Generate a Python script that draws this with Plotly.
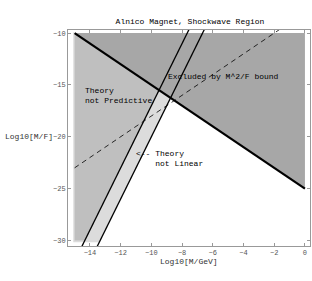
import plotly.graph_objects as go

# ---- data ----
# M^2/F bound (thick line)
bound_x = [-15, 0]
bound_y = [-10, -25]
# "theory not linear" band edges (slope 3 lines)
lin_lo_x = [-14.7, -7.3]
lin_lo_y = [-31.1, -8.9]
lin_hi_x = [-13.7, -6.3]
lin_hi_y = [-31.1, -8.9]
# dashed line
dash_x = [-15, -1.4]
dash_y = [-23, -9.4]
# shaded regions
reg_band_x = [-15.09, -13.4, -8.75, -15.09]
reg_band_y = [-30.18, -30.18, -16.25, -9.9]
reg_pred_x = [-15, -9.5, -14.333, -15]
reg_pred_y = [-10, -15.5, -30, -30]
reg_excl_x = [-15, 0, 0]
reg_excl_y = [-10, -10, -25]

x_ticks = [-14, -12, -10, -8, -6, -4, -2, 0]
y_ticks = [-10, -15, -20, -25, -30]

FONT = "Liberation Mono"

fig = go.Figure()
fig.add_trace(go.Scatter(x=reg_band_x, y=reg_band_y, fill="toself", mode="none",
                         fillcolor="#dcdcdc", hoverinfo="skip"))
fig.add_trace(go.Scatter(x=reg_pred_x, y=reg_pred_y, fill="toself", mode="none",
                         fillcolor="#bfbfbf", hoverinfo="skip"))
fig.add_trace(go.Scatter(x=reg_excl_x, y=reg_excl_y, fill="toself", mode="none",
                         fillcolor="#a7a7a7", hoverinfo="skip"))
fig.add_trace(go.Scatter(x=dash_x, y=dash_y, mode="lines",
                         line=dict(color="black", width=0.8, dash="5px,4px")))
fig.add_trace(go.Scatter(x=lin_lo_x, y=lin_lo_y, mode="lines",
                         line=dict(color="black", width=1.3)))
fig.add_trace(go.Scatter(x=lin_hi_x, y=lin_hi_y, mode="lines",
                         line=dict(color="black", width=1.3)))
fig.add_trace(go.Scatter(x=bound_x, y=bound_y, mode="lines",
                         line=dict(color="black", width=2.2)))

txt = dict(family=FONT, size=8, color="black")
fig.add_annotation(x=-9.05, y=-14.15, text="Excluded by M^2/F bound", showarrow=False,
                   xanchor="left", yanchor="middle", font=txt)
fig.add_annotation(x=-14.45, y=-16.0, text="Theory<br>not Predictive", showarrow=False,
                   xanchor="left", yanchor="middle", align="left", font=txt)
fig.add_annotation(x=-11.1, y=-22.05, text="<-- Theory<br>    not Linear", showarrow=False,
                   xanchor="left", yanchor="middle", align="left", font=txt)
fig.add_annotation(xref="paper", yref="y", x=-0.27, y=-20, text="Log10[M/F]",
                   showarrow=False, xanchor="left", yanchor="middle",
                   font=dict(family=FONT, size=8, color="#333"))
fig.add_annotation(xref="paper", yref="paper", x=0.5, y=-0.074, text="Log10[M/GeV]",
                   showarrow=False, xanchor="center", yanchor="middle",
                   font=dict(family=FONT, size=8, color="#333"))

axis_common = dict(showgrid=False, zeroline=False, showline=True, linecolor="#999",
                   linewidth=1, mirror="allticks", ticks="inside", ticklen=3,
                   tickcolor="#999", tickfont=dict(family=FONT, size=7, color="#555"))
fig.update_xaxes(range=[-15.43, 0.33], tickvals=x_ticks, **axis_common)
fig.update_yaxes(range=[-30.54, -9.7], tickvals=y_ticks, **axis_common)

fig.update_layout(
    width=312, height=281,
    margin=dict(l=68, r=2, t=30, b=35),
    plot_bgcolor="white", paper_bgcolor="white",
    showlegend=False,
    title=dict(text="Alnico Magnet, Shockwave Region", x=0.609, xanchor="center",
               y=0.926, yanchor="middle", font=dict(family=FONT, size=8, color="black")),
)
fig.write_html("out.html", config={"displayModeBar": False},
               post_script="document.body.style.margin='0px';document.body.style.padding='0px';")
